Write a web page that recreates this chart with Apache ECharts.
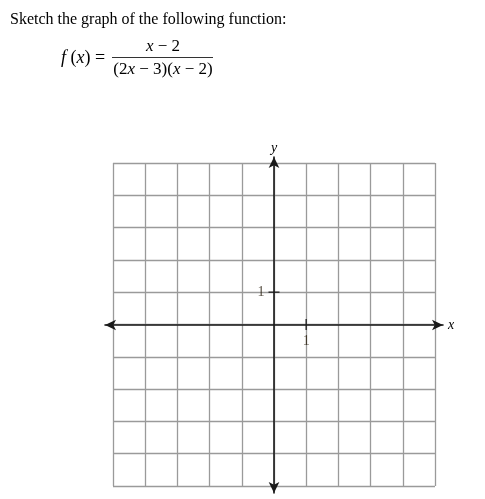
<!DOCTYPE html>
<html><head><meta charset="utf-8">
<script src="https://cdn.jsdelivr.net/npm/echarts@6/dist/echarts.min.js"></script>
<style>html,body{margin:0;padding:0;background:#fff}#c{width:485px;height:499px}</style>
</head><body><div id="c"></div>
<script>
const gridTicks = [-5,-4,-3,-2,-1,0,1,2,3,4,5];
const xTickMarks = [[1, 0]];
const yTickMarks = [[0, 1]];
const xTickLabels = ['1'];
const yTickLabels = ['1'];
const titleText = 'Sketch the graph of the following function:';
const lhsText = '{i|f}{n| (}{i|x}{n|) =}';
const numeratorText = '{i|x}{n| − 2}';
const denominatorText = '{n|(2}{i|x}{n| − 3)(}{i|x}{n| − 2)}';

const serif = '"Liberation Serif","Times New Roman",serif';
const rich = {i:{fontFamily:serif,fontStyle:'italic',fontSize:17,fill:'#000'},n:{fontFamily:serif,fontSize:17,fill:'#000'}};
const chart = echarts.init(document.getElementById('c'), null, {renderer:'canvas'});
const gmin = gridTicks[0], gmax = gridTicks[gridTicks.length-1];
chart.setOption({
  animation:false,
  title:{text:titleText,left:5,top:7,textStyle:{fontFamily:serif,fontSize:16,fontWeight:'normal',color:'#000'}},
  grid:[
    {left:113,top:163,width:322,height:323},
    {left:105,top:157,width:338,height:336}
  ],
  xAxis:[
    {gridIndex:0,type:'value',min:gmin,max:gmax,interval:1,axisLine:{show:false},axisTick:{show:false},axisLabel:{show:false},
     splitLine:{show:true,lineStyle:{color:'#9a9a9a',width:1.3}}},
    {gridIndex:1,type:'value',min:-5.25,max:5.25,axisLine:{show:true,onZero:true,symbol:['arrow','arrow'],symbolSize:[8,11],lineStyle:{color:'#1a1a1a',width:1.6}},
     axisTick:{show:false},axisLabel:{show:false},splitLine:{show:false},
     name:'x',nameLocation:'end',nameGap:5,nameTextStyle:{fontFamily:serif,fontStyle:'italic',fontSize:14,color:'#000',verticalAlign:'middle'}}
  ],
  yAxis:[
    {gridIndex:0,type:'value',min:gmin,max:gmax,interval:1,axisLine:{show:false},axisTick:{show:false},axisLabel:{show:false},
     splitLine:{show:true,lineStyle:{color:'#9a9a9a',width:1.3}}},
    {gridIndex:1,type:'value',min:-5.2,max:5.2,axisLine:{show:true,onZero:true,symbol:['arrow','arrow'],symbolSize:[8,11],lineStyle:{color:'#1a1a1a',width:1.6}},
     axisTick:{show:false},axisLabel:{show:false},splitLine:{show:false},
     name:'y',nameLocation:'end',nameGap:2,nameTextStyle:{fontFamily:serif,fontStyle:'italic',fontSize:14,color:'#000'}}
  ],
  series:[
    {type:'scatter',xAxisIndex:0,yAxisIndex:0,data:xTickMarks,symbol:'rect',symbolSize:[1.6,11],
     itemStyle:{color:'#1a1a1a'},
     label:{show:true,position:'bottom',distance:4,formatter:(p)=>xTickLabels[p.dataIndex],fontFamily:serif,fontSize:14,color:'#2a2010'}},
    {type:'scatter',xAxisIndex:0,yAxisIndex:0,data:yTickMarks,symbol:'rect',symbolSize:[11,1.6],
     itemStyle:{color:'#1a1a1a'},
     label:{show:true,position:'left',distance:4,formatter:(p)=>yTickLabels[p.dataIndex],fontFamily:serif,fontSize:14,color:'#2a2010'}}
  ],
  graphic:[
    {type:'text',x:61,y:58,style:{text:lhsText,verticalAlign:'middle',rich:{i:Object.assign({},rich.i,{fontSize:18}),n:Object.assign({},rich.n,{fontSize:18})}}},
    {type:'text',x:163,y:38,style:{text:numeratorText,align:'center',rich:rich}},
    {type:'line',shape:{x1:112,y1:57.5,x2:213,y2:57.5},style:{stroke:'#333',lineWidth:1}},
    {type:'text',x:163,y:61,style:{text:denominatorText,align:'center',rich:rich}}
  ]
});
</script></body></html>
